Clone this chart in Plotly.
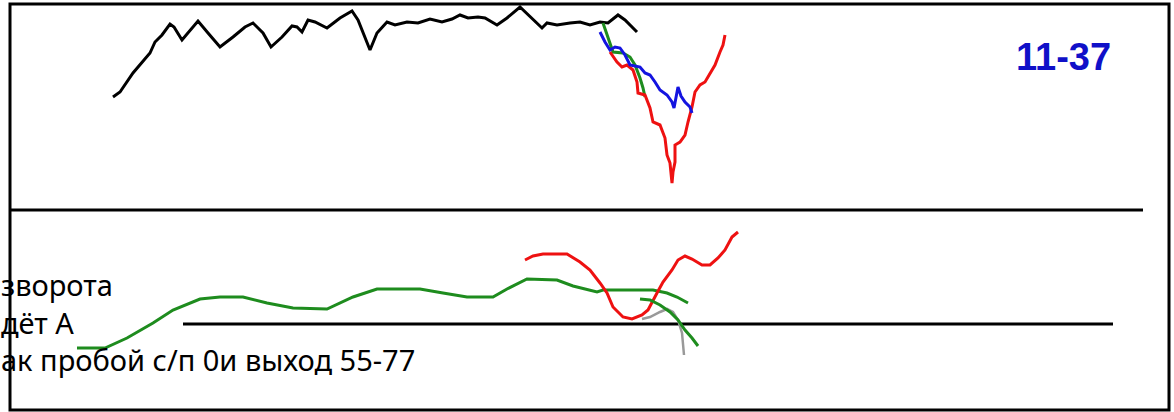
import plotly.graph_objects as go

# ---- upper panel: price (x = bar position, y = level, screen-like scale) ----
price_x = [113, 120, 133, 142, 150, 155, 162, 170, 174, 182, 188, 198, 208, 220, 233, 245, 253, 263, 271,
           282, 292, 297, 302, 308, 315, 327, 340, 352, 358, 370, 377, 387, 395, 407, 418, 430, 442, 452,
           460, 468, 478, 485, 497, 507, 520, 525, 537, 542, 547, 557, 570, 580, 590, 600, 608, 618, 625, 637]
price_y = [97, 92, 73, 63, 53, 42, 35, 24, 27, 40, 33, 21, 33, 47, 37, 27, 23, 33, 47,
           37, 26, 27, 32, 20, 22, 28, 18, 11, 20, 50, 33, 22, 25, 22, 23, 19, 22, 19,
           15, 18, 17, 18, 25, 18, 7, 12, 23, 28, 23, 25, 23, 22, 25, 22, 23, 15, 20, 32]

green_up_x = [603, 607, 610, 613, 623, 630, 635, 640, 643, 645]
green_up_y = [23, 35, 45, 52, 53, 57, 65, 78, 88, 97]

red_up_x = [610, 617, 622, 627, 633, 637, 638, 645, 650, 653, 660, 665, 667, 670, 672, 673, 675, 675,
            680, 685, 688, 692, 695, 700, 705, 710, 715, 720, 723, 725]
red_up_y = [52, 62, 67, 65, 70, 82, 93, 95, 108, 122, 125, 138, 155, 163, 183, 172, 162, 145,
            142, 135, 122, 107, 92, 85, 82, 73, 65, 52, 45, 35]

blue_up_x = [600, 605, 610, 615, 620, 625, 630, 640, 645, 650, 655, 660, 667, 672, 674, 678, 681, 685, 690, 692]
blue_up_y = [32, 42, 50, 47, 48, 55, 65, 67, 73, 75, 82, 90, 95, 102, 108, 87, 96, 102, 107, 113]

# ---- lower panel: oscillators ----
green_lo_x = [77, 105, 127, 153, 173, 200, 220, 243, 267, 293, 327, 353, 377, 420, 443, 467, 493, 507,
              527, 557, 573, 597, 603, 653, 667, 677, 688]
green_lo_y = [348, 348, 338, 323, 310, 299, 297, 297, 303, 308, 309, 297, 289, 289, 293, 297, 297, 289,
              279, 280, 286, 292, 290, 290, 293, 297, 303]

red_lo_x = [525, 533, 543, 567, 580, 590, 600, 607, 613, 623, 632, 642, 648, 652, 657, 663, 672, 678,
            685, 692, 702, 710, 718, 725, 732, 738]
red_lo_y = [260, 256, 254, 254, 262, 270, 283, 293, 307, 317, 319, 315, 310, 303, 293, 282, 270, 260,
            256, 259, 265, 265, 258, 250, 237, 232]

gray_lo_x = [642, 650, 660, 667, 673, 678, 682, 683, 684]
gray_lo_y = [319, 317, 312, 309, 312, 320, 333, 343, 355]

green2_lo_x = [640, 650, 660, 670, 678, 685, 692, 698]
green2_lo_y = [299, 300, 305, 312, 320, 330, 338, 346]

# ---- level lines ----
separator_x = [10, 1143]
separator_y = [210, 210]
zero_x = [183, 1113]
zero_y = [324, 324]

label_code = "11-37"
note_lines = ["зворота", "дёт А", "ак пробой с/п 0и выход 55-77"]
note_baselines = [295, 333, 370]

fig = go.Figure()


def add_line(x, y, color, width=3):
    fig.add_trace(go.Scatter(x=x, y=y, mode="lines", line=dict(color=color, width=width),
                             hoverinfo="skip", showlegend=False))


add_line(separator_x, separator_y, "black", 3)
add_line(zero_x, zero_y, "black", 3)
add_line(price_x, price_y, "black", 3)
add_line(green_up_x, green_up_y, "#1E8C1E", 3)
add_line(red_up_x, red_up_y, "#EE1111", 3)
add_line(blue_up_x, blue_up_y, "#1414E0", 3)
add_line(green_lo_x, green_lo_y, "#1E8C1E", 3)
add_line(red_lo_x, red_lo_y, "#EE1111", 3)
add_line(gray_lo_x, gray_lo_y, "#999999", 2.5)
add_line(green2_lo_x, green2_lo_y, "#1E8C1E", 3)

fig.add_annotation(x=1063, y=57, xref="x", yref="y", text=label_code, showarrow=False,
                   xanchor="center", yanchor="middle",
                   font=dict(family="Liberation Sans, Arial", size=38, color="#1010C8", weight="bold"))

fs = 29
for t, b in zip(note_lines, note_baselines):
    fig.add_annotation(x=0, y=b - 0.36 * fs, xref="x", yref="y", text=t, showarrow=False,
                       xanchor="left", yanchor="middle", xshift=-1,
                       font=dict(family="Noto Sans", size=fs, color="black"))

# frame
fig.add_shape(type="rect", xref="x", yref="y", x0=10, x1=1169, y0=4, y1=410,
              line=dict(color="black", width=3), fillcolor="rgba(0,0,0,0)")

fig.update_layout(
    width=1174, height=412,
    margin=dict(l=0, r=0, t=0, b=0),
    paper_bgcolor="white", plot_bgcolor="white",
    xaxis=dict(range=[0, 1174], visible=False, fixedrange=True),
    yaxis=dict(range=[412, 0], visible=False, fixedrange=True),
    showlegend=False,
)

fig.write_html("out.html", config={"displayModeBar": False},
               post_script="document.body.style.margin='0';document.body.style.overflow='hidden';")
